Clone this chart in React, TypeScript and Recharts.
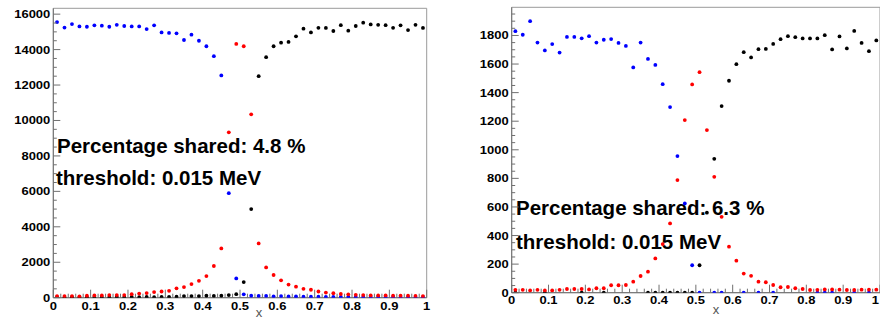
import React from "react";
import { ScatterChart, Scatter, XAxis, YAxis, ReferenceArea } from "recharts";

// bin centres of the 50-bin histogram on [0, 1]
const binCenters = [
  0.01, 0.03, 0.05, 0.07, 0.09, 0.11, 0.13, 0.15, 0.17, 0.19,
  0.21, 0.23, 0.25, 0.27, 0.29, 0.31, 0.33, 0.35, 0.37, 0.39,
  0.41, 0.43, 0.45, 0.47, 0.49, 0.51, 0.53, 0.55, 0.57, 0.59,
  0.61, 0.63, 0.65, 0.67, 0.69, 0.71, 0.73, 0.75, 0.77, 0.79,
  0.81, 0.83, 0.85, 0.87, 0.89, 0.91, 0.93, 0.95, 0.97, 0.99,
];

// left panel
const leftBlue = [
  15550, 15240, 15440, 15310, 15290, 15370, 15350, 15290, 15400, 15330,
  15310, 15310, 15160, 15370, 14970, 14940, 14920, 14540, 14840, 14500,
  14190, 13630, 12540, 5900, 1090, 190, 110, 100, 100, 80,
  90, 70, 70, 60, 60, 60, 50, 50, 50, 50,
  40, 40, 40, 40, 40, 40, 30, 30, 30, 30,
];
const leftRed = [
  90, 90, 90, 80, 110, 130, 130, 150, 150, 150,
  200, 230, 260, 320, 350, 390, 530, 600, 770, 950,
  1220, 1790, 2780, 9330, 14320, 14190, 10350, 3060, 1710, 1280,
  980, 740, 620, 500, 450, 350, 290, 250, 210, 190,
  160, 150, 130, 130, 130, 110, 110, 110, 100, 90,
];
const leftBlack = [
  30, 20, 30, 20, 30, 40, 30, 30, 40, 30,
  40, 30, 40, 30, 40, 50, 60, 90, 90, 90,
  110, 100, 110, 150, 200, 880, 5000, 12500, 13570, 14190,
  14390, 14430, 14750, 15180, 14970, 15230, 15220, 15050, 15380, 15070,
  15330, 15520, 15420, 15400, 15380, 15230, 15370, 15100, 15400, 15220,
];

// right panel (null = no marker drawn)
const rightBlue = [
  1830, 1805, 1900, 1750, 1695, 1740, 1680, 1790, 1790, 1780,
  1795, 1750, 1770, 1775, 1748, 1727, 1576, 1750, 1636, 1594,
  1459, 1299, 956, 625, 192, 0, null, 0, 0, null,
  null, 0, null, 0, null, 0, null, null, null, null,
  null, 0, 0, 0, null, null, 0, null, 0, null,
];
const rightRed = [
  20, 20, 16, 20, 16, 16, 20, 26, 26, 26,
  23, 31, 31, 52, 52, 54, 77, 117, 147, 240,
  340, 485, 788, 1208, 1457, 1543, 1138, 811, 531, 322,
  224, 134, 118, 77, 73, 54, 38, 40, 31, 26,
  19, 20, 23, 23, 21, 19, 19, 21, 21, 21,
];
const rightBlack = [
  0, null, null, null, 0, null, null, null, null, 0,
  null, null, 0, null, null, null, null, null, 0, 0,
  0, 0, 0, 0, 0, 192, 560, 937, 1306, 1483,
  1599, 1683, 1646, 1704, 1706, 1741, 1774, 1795, 1788, 1779,
  1779, 1779, 1802, 1702, 1793, 1709, 1832, 1748, 1690, 1765,
];

const xMajor = [0, 0.1, 0.2, 0.3, 0.4, 0.5, 0.6, 0.7, 0.8, 0.9, 1];
const xLabels = ["0", "0.1", "0.2", "0.3", "0.4", "0.5", "0.6", "0.7", "0.8", "0.9", "1"];
const leftYMajor = [0, 2000, 4000, 6000, 8000, 10000, 12000, 14000, 16000];
const rightYMajor = [0, 200, 400, 600, 800, 1000, 1200, 1400, 1600, 1800];

const leftText = ["Percentage shared: 4.8 %", "threshold: 0.015 MeV"];
const rightText = ["Percentage shared: 6.3 %", "threshold: 0.015 MeV"];

const AXIS = "#707070";
const FRAME = "#9a9a9a";
const FONT = "'Liberation Sans', Arial, sans-serif";

function subdivide(majors: number[], parts: number, top: number) {
  const out: number[] = [];
  const step = (majors[1] - majors[0]) / parts;
  for (let v = majors[0]; v <= top + 1e-9; v += step) out.push(+v.toFixed(6));
  return out;
}

function toPoints(values: (number | null)[]) {
  const pts: { x: number; y: number }[] = [];
  values.forEach((v, i) => {
    if (v !== null) pts.push({ x: binCenters[i], y: v });
  });
  return pts;
}

const dot = (color: string) => (p: any) => (
  <circle cx={p.cx} cy={p.cy} r={1.9} fill={color} />
);

// edgeX: right edge of the svg, so the last label is kept inside it
const makeXTick = (labelDy: number, edgeX: number) => (p: any) => {
  const v = p.payload.value;
  const i = xMajor.findIndex((m) => Math.abs(m - v) < 1e-6);
  const atEdge = p.x + 5 > edgeX;
  return (
    <g>
      <line x1={p.x} x2={p.x} y1={p.y} y2={p.y - (i >= 0 ? 8 : 4)} stroke={AXIS} />
      {i >= 0 && (
        <g transform={`translate(${atEdge ? edgeX : p.x},${p.y + labelDy}) scale(1.18,1)`}>
          <text textAnchor={atEdge ? "end" : "middle"} fontFamily={FONT} fontWeight="bold" fontSize={11} fill="#000">
            {xLabels[i]}
          </text>
        </g>
      )}
    </g>
  );
};

const makeYTick = (majors: number[]) => (p: any) => {
  const v = p.payload.value;
  const major = majors.some((m) => Math.abs(m - v) < 1e-6);
  return (
    <g>
      <line x1={p.x} x2={p.x + (major ? 7 : 3.5)} y1={p.y} y2={p.y} stroke={AXIS} />
      {major && (
        <g transform={`translate(${p.x - 3},${p.y + 4}) scale(1.18,1)`}>
          <text textAnchor="end" fontFamily={FONT} fontWeight="bold" fontSize={11} fill="#000">
            {v}
          </text>
        </g>
      )}
    </g>
  );
};

function Panel(props: {
  left: number;
  yMax: number;
  yMajor: number[];
  blue: (number | null)[];
  red: (number | null)[];
  black: (number | null)[];
  margin: { top: number; right: number; bottom: number; left: number };
  labelDy: number;
}) {
  const { yMax, yMajor } = props;
  const xTicks = subdivide(xMajor, 5, 1);
  const yTicks = subdivide(yMajor, 4, yMax);
  return (
    <div style={{ position: "absolute", left: props.left, top: 0 }}>
      <ScatterChart width={440} height={321} margin={props.margin}>
        <XAxis
          type="number"
          dataKey="x"
          domain={[0, 1]}
          ticks={xTicks}
          interval={0}
          tick={makeXTick(props.labelDy, 439)}
          tickLine={false}
          tickSize={0}
          tickMargin={0}
          axisLine={{ stroke: AXIS }}
          height={20}
          allowDataOverflow
        />
        <YAxis
          type="number"
          dataKey="y"
          domain={[0, yMax]}
          ticks={yTicks}
          interval={0}
          tick={makeYTick(yMajor)}
          tickLine={false}
          tickSize={0}
          tickMargin={0}
          axisLine={{ stroke: AXIS }}
          width={50}
          allowDataOverflow
        />
        <ReferenceArea x1={0} x2={1} y1={0} y2={yMax} fill="none" stroke={FRAME} />
        <Scatter data={toPoints(props.black)} shape={dot("#000000")} isAnimationActive={false} />
        <Scatter data={toPoints(props.blue)} shape={dot("#0000ff")} isAnimationActive={false} />
        <Scatter data={toPoints(props.red)} shape={dot("#ff0000")} isAnimationActive={false} />
      </ScatterChart>
    </div>
  );
}

export default function App() {
  return (
    <div style={{ position: "absolute", left: 0, top: 0, width: 880, height: 321, background: "#fff", overflow: "hidden" }}>
      <svg width={880} height={321} style={{ position: "absolute", left: 0, top: 0 }}>
        <g fontFamily={FONT} fontWeight="bold" fontSize={20.5} fill="#000">
          <text x={57} y={153}>{leftText[0]}</text>
          <text x={56} y={184.5}>{leftText[1]}</text>
          <text x={516} y={214.5}>{rightText[0]}</text>
          <text x={516} y={248.5}>{rightText[1]}</text>
        </g>
        <g fontFamily={FONT} fontSize={13} fill="#555" textAnchor="middle">
          <text x={259} y={317}>x</text>
          <text x={716} y={314}>x</text>
        </g>
      </svg>
      <Panel
        left={0}
        yMax={16330}
        yMajor={leftYMajor}
        blue={leftBlue}
        red={leftRed}
        black={leftBlack}
        margin={{ top: 8.3, right: 13.3, bottom: 3.3, left: 3.3 }}
        labelDy={12.3}
      />
      <Panel
        left={440}
        yMax={1997}
        yMajor={rightYMajor}
        blue={rightBlue}
        red={rightRed}
        black={rightBlack}
        margin={{ top: 7.3, right: 0, bottom: 8.3, left: 21.7 }}
        labelDy={11.5}
      />
    </div>
  );
}
